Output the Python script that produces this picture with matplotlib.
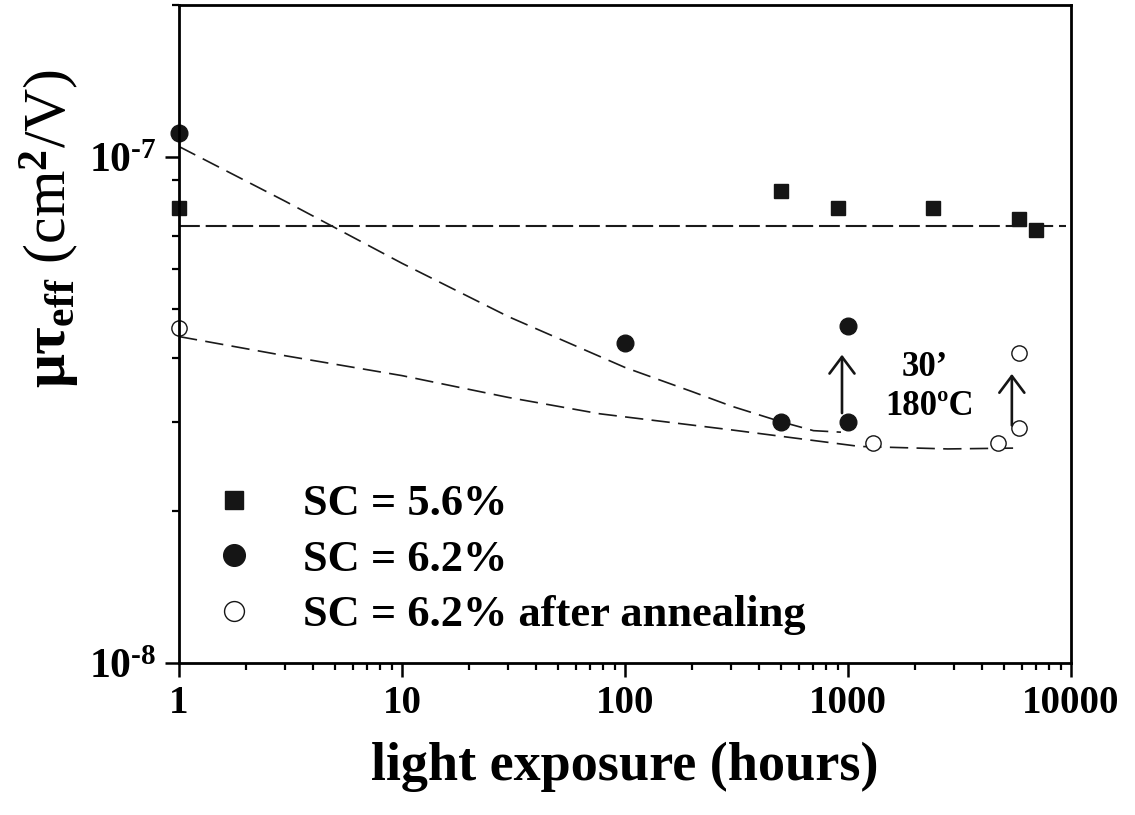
import math
import matplotlib
matplotlib.use('Agg')
import matplotlib.pyplot as plt
from matplotlib.ticker import NullFormatter, LogLocator, FuncFormatter

# data (x in hours, y in cm^2/V)
sq_x = [1, 500, 900, 2400, 5850, 6970]
sq_y = [0.793e-7, 0.857e-7, 0.793e-7, 0.793e-7, 0.754e-7, 0.717e-7]

fc_x = [1, 100, 500, 1000, 1000]
fc_y = [1.116e-7, 0.43e-7, 0.30e-7, 0.30e-7, 0.463e-7]

oc_x = [1, 1300, 4700, 5850, 5850]
oc_y = [0.46e-7, 0.272e-7, 0.272e-7, 0.292e-7, 0.411e-7]

# dashed guide curves
flat_x = [1, 9500]
flat_y = [0.73e-7, 0.73e-7]
upper_x = [1, 3, 10, 30, 100, 200, 300, 500, 700, 930]
upper_y = [1.05e-7, 0.818e-7, 0.617e-7, 0.484e-7, 0.384e-7, 0.344e-7,
           0.322e-7, 0.300e-7, 0.288e-7, 0.286e-7]
lower_x = [1, 3, 10, 30, 77, 300, 1130, 2800, 5500]
lower_y = [0.442e-7, 0.405e-7, 0.370e-7, 0.335e-7, 0.311e-7, 0.289e-7,
           0.268e-7, 0.265e-7, 0.266e-7]

# annealing arrows: x, start, tip
arrow_x = [940, 5430]
arrow_from = [0.312e-7, 0.295e-7]
arrow_to = [0.407e-7, 0.373e-7]

labels = ['SC = 5.6%', 'SC = 6.2%', 'SC = 6.2% after annealing']

plt.rcParams['font.family'] = ['Liberation Serif', 'DejaVu Serif']
plt.rcParams['font.weight'] = 'bold'
plt.rcParams['mathtext.fontset'] = 'custom'
plt.rcParams['mathtext.rm'] = 'Liberation Serif'
plt.rcParams['mathtext.bf'] = 'Liberation Serif:bold'
plt.rcParams['mathtext.it'] = 'Liberation Serif:italic'

HYPHEN = '\u2010'


def ylab(v, pos):
    e = round(math.log10(v))
    return r'$\mathdefault{10^{%s%d}}$' % (HYPHEN, -e)


fig = plt.figure(figsize=(11.35, 8.15), dpi=100)
ax = fig.add_axes([0.1577, 0.1865, 0.7859, 0.8074])

ax.plot(flat_x, flat_y, color='#1a1a1a', lw=1.5, dashes=(10, 2.8))
ax.plot(upper_x, upper_y, color='#1a1a1a', lw=1.2, dashes=(11, 5))
ax.plot(lower_x, lower_y, color='#1a1a1a', lw=1.2, dashes=(11, 5))

ax.plot(sq_x, sq_y, 's', color='#151515', ms=10.5, ls='none', clip_on=False, label=labels[0])
ax.plot(fc_x, fc_y, 'o', color='#151515', ms=12, ls='none', clip_on=False, label=labels[1])
ax.plot(oc_x, oc_y, 'o', mfc='white', mec='#151515', mew=1.0, ms=11, ls='none',
        clip_on=False, label=labels[2])

for x, y0, y1 in zip(arrow_x, arrow_from, arrow_to):
    ax.annotate('', xy=(x, y1), xytext=(x, y0),
                arrowprops=dict(arrowstyle='->, head_length=0.6, head_width=0.45',
                                mutation_scale=20, lw=1.9, color='#151515',
                                shrinkA=0, shrinkB=0))

ax.text(2214, 0.384e-7, '30\u2019', fontsize=25, fontweight='bold', ha='center', va='center')
ax.text(2333, 0.321e-7, '180\u00baC', fontsize=25, fontweight='bold', ha='center', va='center')

ax.set_xscale('log')
ax.set_yscale('log')
ax.set_xlim(1, 10000)
ax.set_ylim(1e-8, 2e-7)
ax.yaxis.set_major_locator(LogLocator(base=10, numticks=10))
ax.xaxis.set_major_formatter(FuncFormatter(lambda v, pos: f'{v:g}'))
ax.yaxis.set_major_formatter(FuncFormatter(ylab))
ax.yaxis.set_minor_formatter(NullFormatter())
ax.xaxis.set_minor_formatter(NullFormatter())

for s in ax.spines.values():
    s.set_linewidth(2)
ax.tick_params(which='major', length=10, width=1.8, pad=6)
ax.tick_params(axis='x', labelsize=28)
ax.tick_params(axis='y', labelsize=30, pad=6)
ax.tick_params(which='minor', length=5, width=1.6)
ax.tick_params(top=False, right=False, which='both')
for t in ax.get_xticklabels() + ax.get_yticklabels():
    t.set_fontweight('bold')

ax.set_xlabel('light exposure (hours)', fontsize=39, fontweight='bold', labelpad=14)
ax.set_ylabel(r'$\mathbf{\mu\tau_{eff}}$ (cm$^{2}$/V)', fontsize=43, fontweight='normal')
ax.yaxis.set_label_coords(-0.109, 0.661)

ax.legend(loc='upper left', bbox_to_anchor=(0.037, 0.272), frameon=False,
          markerscale=1.3, handlelength=1.0, handletextpad=1.05,
          borderpad=0, borderaxespad=0, labelspacing=0.35,
          prop={'family': 'Liberation Serif', 'weight': 'bold', 'size': 32})

fig.savefig('out.png', dpi=100)
